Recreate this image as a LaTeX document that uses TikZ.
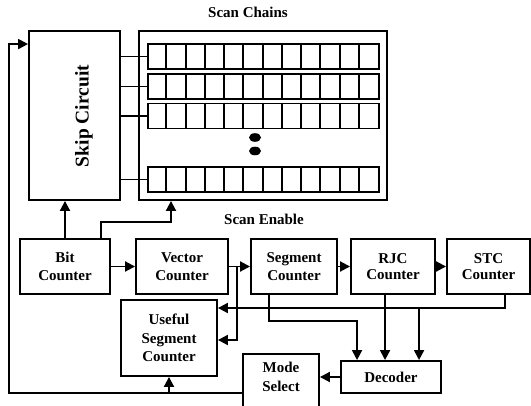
\documentclass[tikz,border=0pt]{standalone}
\usepackage{fontspec}
\setmainfont{Liberation Serif}
\usetikzlibrary{arrows.meta,calc}

\tikzset{
  block/.style={draw, line width=1.9pt, align=center, inner sep=2pt,
    font=\bfseries\fontsize{15}{18.5}\selectfont},
  chain/.style={draw, line width=1.9pt, minimum width=231pt, minimum height=25pt, inner sep=0pt},
  heading/.style={font=\bfseries\fontsize{15}{18}\selectfont},
  wire/.style={line width=1.9pt},
  arr/.style={wire, -{Triangle[length=10pt,width=10pt]}},
}

\begin{document}
\begin{tikzpicture}[x=1pt,y=-1pt]
\useasboundingbox (0,0) rectangle (531,406);
\clip (0,0) rectangle (531,406);

% skip circuit and scan chains
\node[block, minimum width=91pt, minimum height=169pt] (skip) at (74.5,115.5) {};
\node[rotate=90, font=\bfseries\fontsize{19.5}{22}\selectfont] (skiplabel) at (84,116) {Skip Circuit};
\node[draw, line width=1.9pt, minimum width=248pt, minimum height=169pt] (chains) at (263,115.5) {};
\node[heading] (chaintitle) at (248,12) {Scan Chains};

\foreach \r/\y in {1/56.5,2/86.5,3/116,4/179.5} {
  \node[chain] (row\r) at (263.5,\y) {};
  \foreach \c in {1,...,11}
    \draw[wire] ($(row\r.north west)+(\c*19.25,0)$) -- ($(row\r.south west)+(\c*19.25,0)$);
  \draw[wire] (skip.east |- row\r.west) -- (row\r.west);
}
\fill (255,137.5) ellipse [x radius=6pt, y radius=4.3pt];
\fill (255,151) ellipse [x radius=6pt, y radius=4.3pt];

\node[heading] (enabletitle) at (264,219) {Scan Enable};

% counters
\node[block, minimum width=90pt, minimum height=55pt] (bit) at (65,266.5) {Bit\\Counter};
\node[block, minimum width=92pt, minimum height=55pt] (vector) at (182,266.5) {Vector\\Counter};
\node[block, minimum width=86pt, minimum height=55pt] (segment) at (294,266.5) {Segment\\Counter};
\node[block, minimum width=84pt, minimum height=55pt] (rjc) at (393,266.5) {RJC\\[-3pt]Counter};
\node[block, minimum width=83pt, minimum height=55pt] (stc) at (488.5,266.5) {STC\\[-3pt]Counter};
\node[block, minimum width=96pt, minimum height=76pt] (useful) at (169,338) {Useful\\Segment\\Counter};
\node[block, minimum width=100pt, minimum height=32pt] (decoder) at (391,377) {Decoder};
\node[block, minimum width=76pt, minimum height=70pt, anchor=north] (mode) at (281,353) {};
\node[block, draw=none] (modetext) at (281,377) {Mode\\Select};

% bit counter to skip circuit and scan enable
\draw[arr] (bit.north) -- (bit.north |- skip.south);
\coordinate (enable) at (171,222);
\draw[arr] ($(bit.north east)+(-10,0)$) |- (enable) -- (enable |- chains.south);

% counter chain
\draw[arr] (bit) -- (vector);
\draw[arr] (vector) -- (segment);
\draw[arr] (segment) -- (rjc);
\draw[arr] (rjc) -- (stc);
\draw[arr] ($(vector.east)+(8,0)$) |- ($(useful.east)+(0,2)$);

% decoder inputs
\coordinate (in1) at ($(decoder.north west)+(17,0)$);
\coordinate (in2) at ($(decoder.north west)+(45,0)$);
\coordinate (in3) at ($(decoder.north west)+(79,0)$);
\coordinate (bus) at (505,308);
\draw[arr] (bus |- stc.south) -- (bus) -- (bus -| useful.east);
\draw[arr] (in3 |- bus) -- (in3);
\draw[arr] ($(segment.south west)+(19,0)$) |- ($(in1)+(0,-39)$) -- (in1);
\draw[arr] (in2 |- rjc.south) -- (in2);
\draw[arr] (decoder.west) -- (mode.east |- decoder.west);

% mode select feedback
\coordinate (loop) at (9,393);
\draw[arr] (mode.west |- loop) -- (loop) |- ($(skip.north west)+(0,14)$);
\draw[arr] (useful.south |- loop) -- (useful.south);
\end{tikzpicture}
\end{document}
